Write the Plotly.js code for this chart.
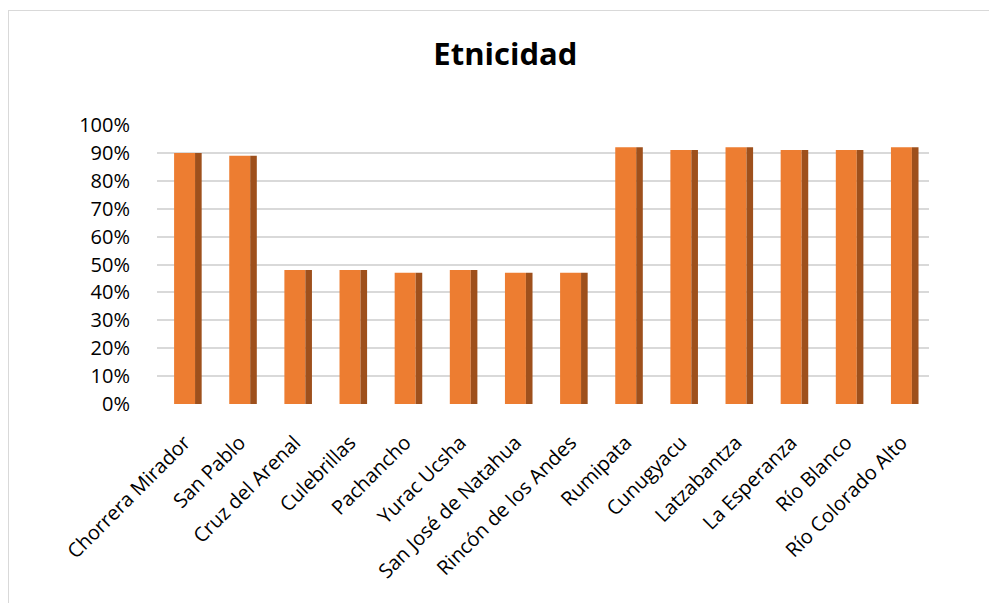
<!DOCTYPE html>
<html>
<head>
<meta charset="utf-8">
<script src="https://cdn.plot.ly/plotly-3.0.1.min.js"></script>
<style>
  html, body { margin: 0; padding: 0; background: #ffffff; }
  #frame { position: absolute; left: 8px; top: 10px; width: 1000px; height: 620px; border: 1px solid #d9d9d9; }
  #chart { position: absolute; left: 0; top: 0; width: 989px; height: 603px; }
</style>
</head>
<body>
<div id="frame"></div>
<div id="chart"></div>
<script>
const categories = [
  "Chorrera Mirador", "San Pablo", "Cruz del Arenal", "Culebrillas", "Pachancho",
  "Yurac Ucsha", "San José de Natahua", "Rincón de los Andes", "Rumipata",
  "Cunugyacu", "Latzabantza", "La Esperanza", "Río Blanco", "Río Colorado Alto"
];
const etnicidad = [0.90, 0.89, 0.48, 0.48, 0.47, 0.48, 0.47, 0.47, 0.92, 0.91, 0.92, 0.91, 0.91, 0.92];
const yTickVals = [0, 0.1, 0.2, 0.3, 0.4, 0.5, 0.6, 0.7, 0.8, 0.9, 1.0];
const yTickText = ["0%", "10%", "20%", "30%", "40%", "50%", "60%", "70%", "80%", "90%", "100%"];
const chartTitle = "Etnicidad";

const font = "'Open Sans', 'DejaVu Sans', sans-serif";

const front = {
  type: "bar", x: categories, y: etnicidad,
  width: 0.38, offset: -0.19,
  marker: { color: "#ED7D31", line: { width: 0 } },
  hoverinfo: "x+y"
};
const side = {
  type: "bar", x: categories, y: etnicidad,
  width: 0.12, offset: 0.19,
  marker: { color: "#9E501C", line: { width: 0 } },
  hoverinfo: "skip"
};

const layout = {
  width: 989, height: 603,
  paper_bgcolor: "rgba(0,0,0,0)", plot_bgcolor: "rgba(0,0,0,0)",
  margin: { l: 157, r: 60, t: 125, b: 199 },
  barmode: "overlay",
  showlegend: false,
  title: {
    text: "<b>" + chartTitle + "</b>",
    font: { family: font, size: 31, color: "#000000" },
    x: 0.511, xanchor: "center", xref: "container",
    y: 0.91, yanchor: "middle", yref: "container"
  },
  xaxis: {
    type: "category",
    range: [-0.5, 13.5],
    tickangle: -45,
    tickfont: { family: font, size: 20, color: "#000000" },
    showgrid: false, zeroline: false, showline: false,
    ticks: "", ticklabelstandoff: 22
  },
  yaxis: {
    range: [0, 1.0],
    tickvals: yTickVals, ticktext: yTickText,
    tickfont: { family: font, size: 20, color: "#000000" },
    showgrid: true, gridcolor: "#d9d9d9", gridwidth: 2,
    zeroline: false, showline: false, ticks: "",
    ticklabelstandoff: 26
  }
};

Plotly.newPlot("chart", [front, side], layout, { displayModeBar: false, staticPlot: true });
</script>
</body>
</html>
